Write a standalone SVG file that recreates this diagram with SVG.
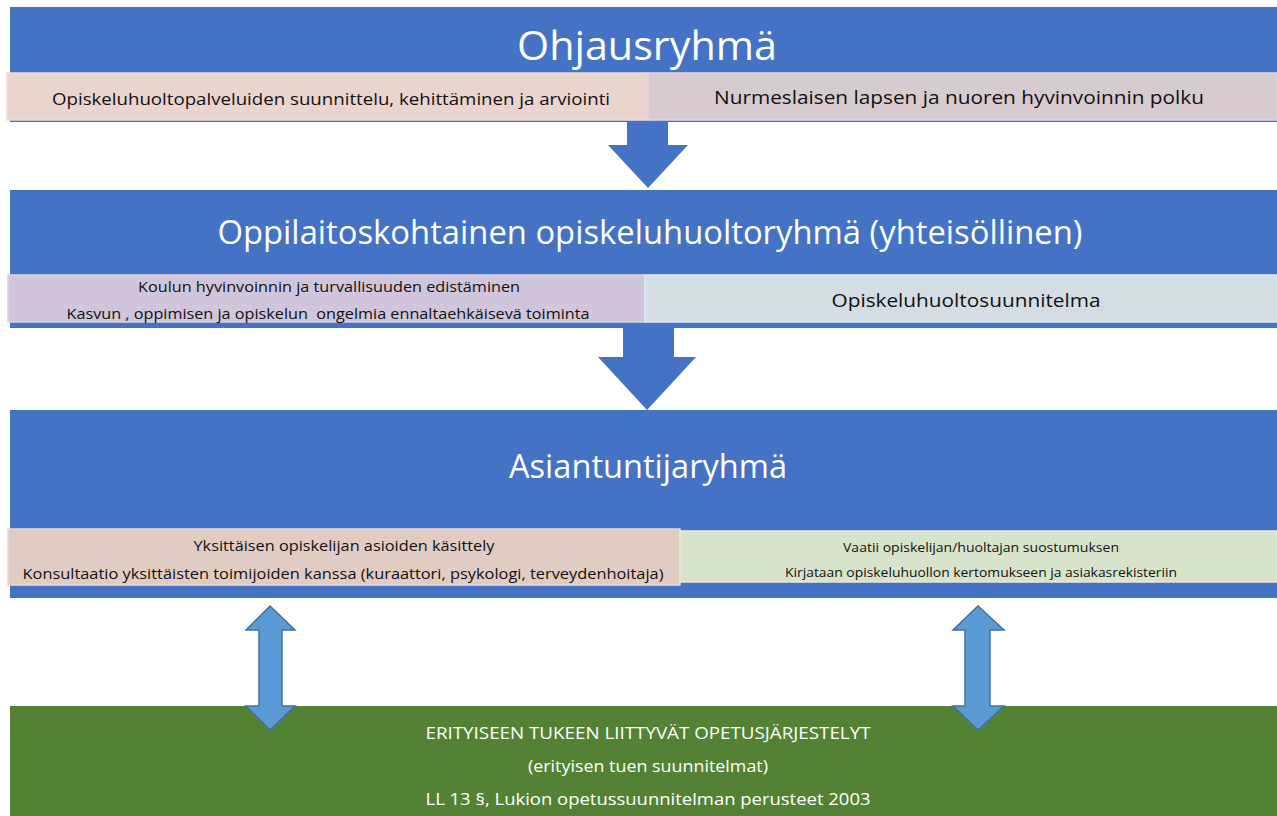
<svg xmlns="http://www.w3.org/2000/svg" width="1277" height="816" viewBox="0 0 1277 816">
<style>
.bar{fill:#4472c4}
.t{font-family:"Open Sans","Liberation Sans",sans-serif;text-anchor:middle}
.title{fill:#ffffff}
.dark{fill:#111111}
.white{fill:#ffffff}
.dbl{fill:#5b9bd5;stroke:#41719c;stroke-width:1.5}
.down{fill:#4472c4}
.pre{white-space:pre}
</style>
<rect width="1277" height="816" fill="#ffffff"/>
<g id="ohjausryhma">
<rect class="bar" x="10" y="7" width="1267" height="115"/>
<text class="t title" x="647" y="60" font-size="40" textLength="260" lengthAdjust="spacingAndGlyphs">Ohjausryhmä</text>
</g>
<g id="ohjaus-left">
<rect x="7" y="73" width="641" height="47" fill="#e9d5cd" stroke="#f2ddd6" stroke-width="1.5"/>
<text class="t dark" x="331" y="105" font-size="17" textLength="558" lengthAdjust="spacingAndGlyphs">Opiskeluhuoltopalveluiden suunnittelu, kehittäminen ja arviointi</text>
</g>
<g id="ohjaus-right">
<rect x="648" y="73" width="629" height="47" fill="#d8cbd0" stroke="#e0d6da" stroke-width="1.5"/>
<text class="t dark" x="959" y="104" font-size="19" textLength="490" lengthAdjust="spacingAndGlyphs">Nurmeslaisen lapsen ja nuoren hyvinvoinnin polku</text>
</g>
<g id="oppilaitos">
<rect class="bar" x="10" y="190" width="1267" height="138"/>
<text class="t title" x="650" y="244" font-size="33" textLength="865" lengthAdjust="spacingAndGlyphs">Oppilaitoskohtainen opiskeluhuoltoryhmä (yhteisöllinen)</text>
</g>
<g id="oppilaitos-left">
<rect x="8" y="275" width="637" height="47" fill="#d0c5da" stroke="#dad2e2" stroke-width="1.5"/>
<text class="t dark" x="329" y="292" font-size="15" textLength="382" lengthAdjust="spacingAndGlyphs">Koulun hyvinvoinnin ja turvallisuuden edistäminen</text>
<text class="t dark pre" x="328" y="319" font-size="15" textLength="523" lengthAdjust="spacingAndGlyphs">Kasvun , oppimisen ja opiskelun  ongelmia ennaltaehkäisevä toiminta</text>
</g>
<g id="oppilaitos-right">
<rect x="645" y="275" width="632" height="47" fill="#d3dde4" stroke="#dfe7ec" stroke-width="1.5"/>
<text class="t dark" x="966" y="307" font-size="19" textLength="269" lengthAdjust="spacingAndGlyphs">Opiskeluhuoltosuunnitelma</text>
</g>
<g id="asiantuntija">
<rect class="bar" x="10" y="410" width="1267" height="188"/>
<text class="t title" x="648" y="478" font-size="33" textLength="278" lengthAdjust="spacingAndGlyphs">Asiantuntijaryhmä</text>
</g>
<g id="asiantuntija-left">
<rect x="8" y="529" width="672" height="56" fill="#e0ccc3" stroke="#e8d8cf" stroke-width="1.5"/>
<text class="t dark" x="344" y="551" font-size="15" textLength="301" lengthAdjust="spacingAndGlyphs">Yksittäisen opiskelijan asioiden käsittely</text>
<text class="t dark" x="343" y="579" font-size="15" textLength="641" lengthAdjust="spacingAndGlyphs">Konsultaatio yksittäisten toimijoiden kanssa (kuraattori, psykologi, terveydenhoitaja)</text>
</g>
<g id="asiantuntija-right">
<rect x="680" y="531" width="597" height="51" fill="#d7e3cb" stroke="#e2ebd8" stroke-width="1.5"/>
<text class="t dark" x="981" y="552" font-size="13" textLength="276" lengthAdjust="spacingAndGlyphs">Vaatii opiskelijan/huoltajan suostumuksen</text>
<text class="t dark" x="981" y="577" font-size="13" textLength="392" lengthAdjust="spacingAndGlyphs">Kirjataan opiskeluhuollon kertomukseen ja asiakasrekisteriin</text>
</g>
<g id="erityinen-tuki">
<rect x="10" y="706" width="1267" height="110" fill="#548235"/>
<text class="t white" x="648" y="739" font-size="16" textLength="445" lengthAdjust="spacingAndGlyphs">ERITYISEEN TUKEEN LIITTYVÄT OPETUSJÄRJESTELYT</text>
<text class="t white" x="648" y="772" font-size="16" textLength="240" lengthAdjust="spacingAndGlyphs">(erityisen tuen suunnitelmat)</text>
<text class="t white" x="648" y="805" font-size="16" textLength="445" lengthAdjust="spacingAndGlyphs">LL 13 §, Lukion opetussuunnitelman perusteet 2003</text>
</g>
<g id="connectors">
<polygon class="down" points="627,121 668,121 668,145 688,145 648,188 608,145 627,145"/>
<polygon class="down" points="623,327 674,327 674,357 696,357 647,410 598,357 623,357"/>
<polygon class="dbl" points="270,606 295,630 282,630 282,706 295,706 270,730 246,706 259,706 259,630 246,630"/>
<polygon class="dbl" points="978,606 1004,630 990,630 990,706 1004,706 978,730 953,706 965,706 965,630 953,630"/>
</g>
</svg>
